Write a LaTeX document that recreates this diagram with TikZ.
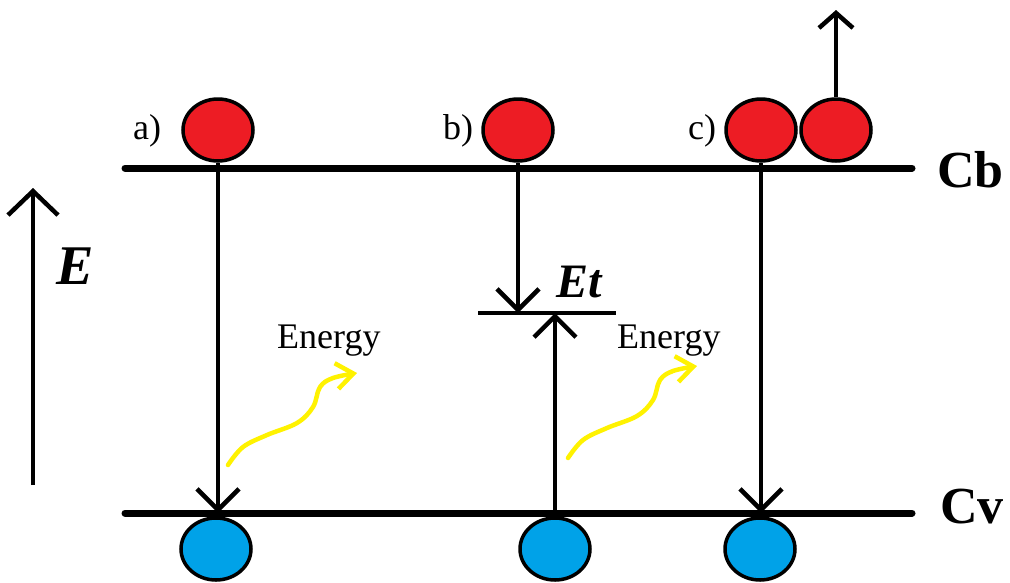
\documentclass[tikz,border=0pt]{standalone}
\usepackage{fontspec}
\setmainfont{Liberation Serif}
\usetikzlibrary{arrows.meta,shapes.geometric}
\definecolor{ered}{RGB}{237,28,36}
\definecolor{hblue}{RGB}{0,162,232}
\definecolor{wyel}{RGB}{255,242,0}
\begin{document}
\begin{tikzpicture}[x=1pt,y=-1pt,
  level/.style={line width=7pt,line cap=round},
  trap/.style={line width=3.5pt},
  trans/.style={line width=4pt,-{Straight Barb[length=21pt,width=42pt,line width=4.5pt]}},
  bigarr/.style={line width=4pt,-{Straight Barb[length=24pt,width=50pt,line width=4.5pt]}},
  smallarr/.style={line width=4pt,-{Straight Barb[length=15pt,width=34pt,line width=4.5pt]}},
  carrier/.style={ellipse,draw,line width=3.5pt,minimum width=70pt,minimum height=62pt,inner sep=0pt},
  elec/.style={carrier,fill=ered},
  hole/.style={carrier,fill=hblue},
  lab/.style={inner sep=0pt,anchor=base west,font=\fontsize{36}{40}\selectfont},
  bandlab/.style={inner sep=0pt,anchor=base west,font=\fontsize{52}{56}\selectfont\bfseries},
  wiggle/.style={wyel,line width=4.5pt,line cap=round,line join=round,-{Straight Barb[length=17pt,width=26pt,line width=4.5pt]}}
]
\useasboundingbox (0,0) rectangle (1010,582);
% levels
\coordinate (cbL) at (125,168); \coordinate (cbR) at (912,168);
\coordinate (cvL) at (125,513); \coordinate (cvR) at (912,513);
\coordinate (etL) at (478,313); \coordinate (etR) at (616,313);
\draw[level] (cbL) -- (cbR);
\draw[level] (cvL) -- (cvR);
\draw[trap] (etL) -- (etR);
% carriers
\node[elec] (ea) at (218,130) {};
\node[elec] (eb) at (518,130) {};
\node[elec] (ec1) at (761,130) {};
\node[elec] (ec2) at (836,130) {};
\node[hole] (ha) at (216,549) {};
\node[hole] (hb) at (555,549) {};
\node[hole] (hc) at (760,549) {};
% transitions
\draw[trans] (ea.south) -- (ea.south |- cvL);
\draw[trans] (eb.south) -- (eb.south |- etL);
\draw[trans] (hb.north) -- (hb.north |- etL);
\draw[trans] (ec1.south) -- (ec1.south |- cvL);
\coordinate (esc) at (836,10);
\draw[smallarr] (ec2.north) -- (esc);
% energy axis
\coordinate (eB) at (33,485); \coordinate (eT) at (33,188);
\draw[bigarr] (eB) -- (eT);
\node[inner sep=0pt,anchor=base west,font=\fontsize{56}{60}\selectfont\bfseries\itshape] (Elab) at (56,284) {E};
\node[inner sep=0pt,anchor=base west,font=\fontsize{48}{52}\selectfont\bfseries\itshape] (etlab) at (556,297) {Et};
% labels
\node[lab] (la) at (133,139) {a)};
\node[lab] (lb) at (443,139) {b)};
\node[lab] (lc) at (688,139) {c)};
\node[bandlab] (cb) at (937,187) {Cb};
\node[bandlab] (cv) at (940,523) {Cv};
\node[lab] (en1) at (277,348) {Energy};
\node[lab] (en2) at (617,348) {Energy};
% energy release wiggles
\foreach \dx/\dy in {0/0,340/-7}{
  \begin{scope}[shift={(\dx,\dy)}]
    \draw[wiggle] plot[smooth,tension=0.6] coordinates {(228,465) (243,447) (267,435) (297,423) (313,407) (320,387) (333,378) (357,373)};
  \end{scope}
}
\end{tikzpicture}
\end{document}
